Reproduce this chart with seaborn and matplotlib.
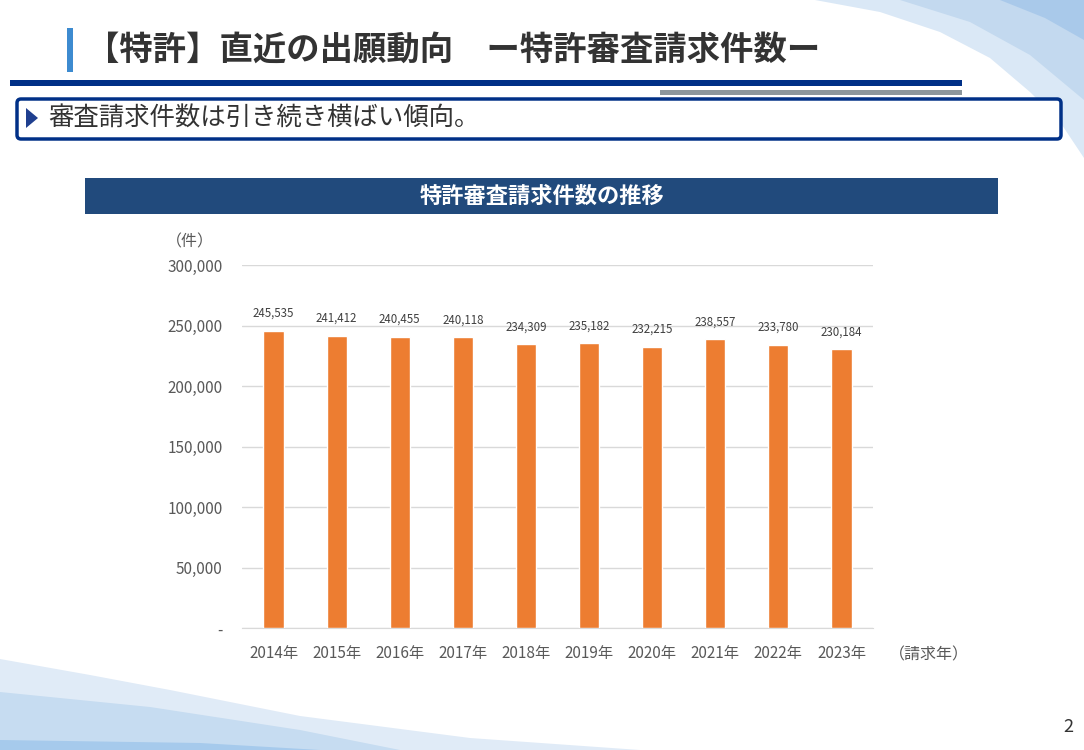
import numpy as np
import pandas as pd
import seaborn as sns
import matplotlib.pyplot as plt
from matplotlib.patches import Rectangle, FancyBboxPatch, Polygon
from matplotlib.ticker import FuncFormatter

# data
years = ["2014年", "2015年", "2016年", "2017年", "2018年",
         "2019年", "2020年", "2021年", "2022年", "2023年"]
requests = [245535, 241412, 240455, 240118, 234309,
            235182, 232215, 238557, 233780, 230184]

df = pd.DataFrame({"year": years, "requests": requests})

sns.set_style("white")
plt.rcParams["font.family"] = ["Noto Sans CJK JP", "DejaVu Sans"]

fig = plt.figure(figsize=(10.84, 7.5), dpi=100)
fig.patch.set_facecolor("white")

# background layer in pixel coordinates for the slide decoration
bg = fig.add_axes([0, 0, 1, 1], zorder=0)
bg.set_xlim(0, 1084)
bg.set_ylim(750, 0)
bg.axis("off")

# top right swoosh
bg.add_patch(Polygon([(815, 0), (880, 12), (940, 32), (990, 58), (1030, 92),
                      (1060, 122), (1084, 158), (1084, 0)], closed=True,
                     facecolor="#dae8f6", edgecolor="none"))
bg.add_patch(Polygon([(900, 0), (970, 22), (1030, 55), (1084, 100), (1084, 0)],
                     closed=True, facecolor="#c3d9ef", edgecolor="none"))
bg.add_patch(Polygon([(1000, 0), (1045, 18), (1084, 40), (1084, 0)],
                     closed=True, facecolor="#a9c9ea", edgecolor="none"))

# bottom left swoosh
bg.add_patch(Polygon([(0, 659), (90, 675), (170, 690), (300, 716), (470, 738),
                      (640, 750), (0, 750)], closed=True,
                     facecolor="#e0ebf7", edgecolor="none"))
bg.add_patch(Polygon([(0, 692), (150, 707), (300, 730), (400, 750), (0, 750)],
                     closed=True, facecolor="#c6dcf1", edgecolor="none"))
bg.add_patch(Polygon([(0, 740), (200, 743), (320, 750), (0, 750)],
                     closed=True, facecolor="#a6caec", edgecolor="none"))

# header
bg.add_patch(Rectangle((67, 28), 6, 44, facecolor="#3d8bd0", edgecolor="none"))
bg.text(86, 50, "【特許】直近の出願動向　ー特許審査請求件数ー", fontsize=24,
        fontweight="bold", color="#333333", va="center", ha="left")
bg.add_patch(Rectangle((10, 80), 952, 6, facecolor="#003087", edgecolor="none"))
bg.add_patch(Rectangle((660, 90), 302, 5, facecolor="#8c969c", edgecolor="none"))

# subtitle box
bg.add_patch(FancyBboxPatch((17, 99), 1044, 40,
                            boxstyle="round,pad=0,rounding_size=4",
                            facecolor="white", edgecolor="#003087", linewidth=2.5))
bg.add_patch(Polygon([(26, 108), (38, 118), (26, 128)], closed=True,
                     facecolor="#1f3f8f", edgecolor="none"))
bg.text(48, 118, "審査請求件数は引き続き横ばい傾向。", fontsize=18.3,
        color="#333333", va="center", ha="left")

# chart title banner
bg.add_patch(Rectangle((85, 178), 913, 36, facecolor="#214a7c", edgecolor="none"))
bg.text(542, 196, "特許審査請求件数の推移", fontsize=16, fontweight="bold",
        color="white", va="center", ha="center")

bg.text(166, 242, "（件）", fontsize=11.5, color="#595959", va="center", ha="left")
bg.text(1068, 727, "2", fontsize=13, color="#333333", va="center", ha="center")

# chart
ax = fig.add_axes([242 / 1084, 1 - 628 / 750, 631 / 1084, 363 / 750], zorder=2)
ax.patch.set_alpha(0)
sns.barplot(data=df, x="year", y="requests", color="#ed7d31", width=0.32,
            saturation=1, ax=ax, zorder=3)

ax.set_ylim(0, 300000)
ax.set_xlim(-0.5, len(years) - 0.5)
ax.set_yticks(np.arange(0, 300001, 50000))
ax.yaxis.set_major_formatter(FuncFormatter(
    lambda v, p: "-" if v == 0 else f"{int(v):,}"))
ax.grid(axis="y", color="#d9d9d9", linewidth=1, zorder=0)
ax.set_axisbelow(True)
for s in ["top", "right", "left"]:
    ax.spines[s].set_visible(False)
ax.spines["bottom"].set_color("#d9d9d9")
ax.tick_params(axis="both", length=0, colors="#595959", labelsize=11)
ax.tick_params(axis="x", pad=12)
ax.tick_params(axis="y", pad=14)
ax.set_xlabel("")
ax.set_ylabel("")

for i, v in enumerate(requests):
    ax.annotate(f"{v:,}", (i, v), xytext=(0, 8), textcoords="offset points",
                ha="center", va="bottom", fontsize=8.3, color="#404040")

ax.text(1.025, -0.073, "（請求年）", transform=ax.transAxes, fontsize=11.5,
        color="#595959", ha="left", va="center")

fig.savefig("out.png", dpi=100)
